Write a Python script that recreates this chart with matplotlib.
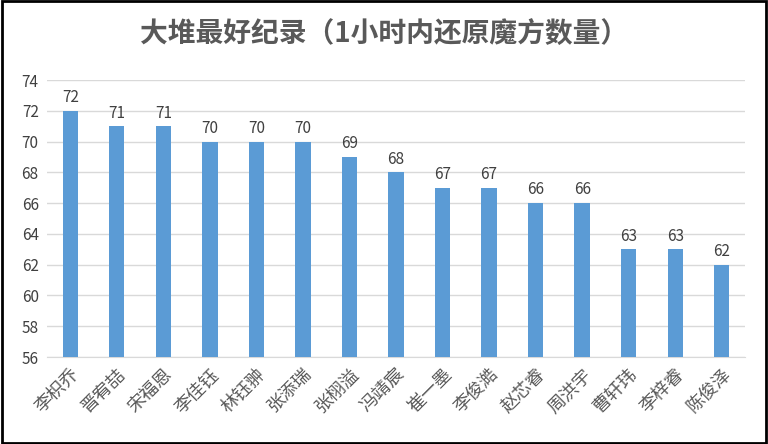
import matplotlib
matplotlib.use('Agg')
import matplotlib.pyplot as plt
from matplotlib.patches import Rectangle

plt.rcParams['font.family'] = ['Noto Sans CJK SC', 'DejaVu Sans']

names = ['李枳乔','晋宥喆','宋福恩','李佳钰','林钰翀','张添瑞','张栩溢','冯靖宸','崔一墨','李俊澔','赵芯睿','周洪宇','曹轩玮','李梓睿','陈俊泽']
values = [72,71,71,70,70,70,69,68,67,67,66,66,63,63,62]
yticks = list(range(56,75,2))

fig = plt.figure(figsize=(7.68,4.44), dpi=100)
ax = fig.add_axes([47/768, 1-357/444, 698/768, 277/444])
x = range(len(names))
ax.bar(x, [v-56 for v in values], bottom=56, width=0.33, color='#5B9BD5', zorder=3)
for i, v in zip(x, values):
    ax.text(i, v+0.3, str(v), ha='center', va='bottom', fontsize=11, color='#404040')
ax.set_ylim(56,74)
ax.set_xlim(-0.5, len(names)-0.5)
ax.set_yticks(yticks)
ax.set_yticklabels([str(t) for t in yticks], fontsize=11, color='#404040')
ax.yaxis.grid(True, color='#D9D9D9', lw=1, zorder=0)
ax.set_xticks(list(x))
ax.set_xticklabels(names, rotation=45, ha='right', rotation_mode='anchor', fontsize=13, color='#595959')
for s in ['top','right','left']:
    ax.spines[s].set_visible(False)
ax.spines['bottom'].set_color('#D9D9D9')
ax.tick_params(length=0, pad=6)
fig.text(0.5, 1-35/444, '大堆最好纪录（1小时内还原魔方数量）', ha='center', va='center', fontsize=20, fontweight='bold', color='#595959')
fig.patches.append(Rectangle((0.002,0.003),0.996,0.994, transform=fig.transFigure, fill=False, ec='black', lw=2))
fig.savefig('out.png', dpi=100)
